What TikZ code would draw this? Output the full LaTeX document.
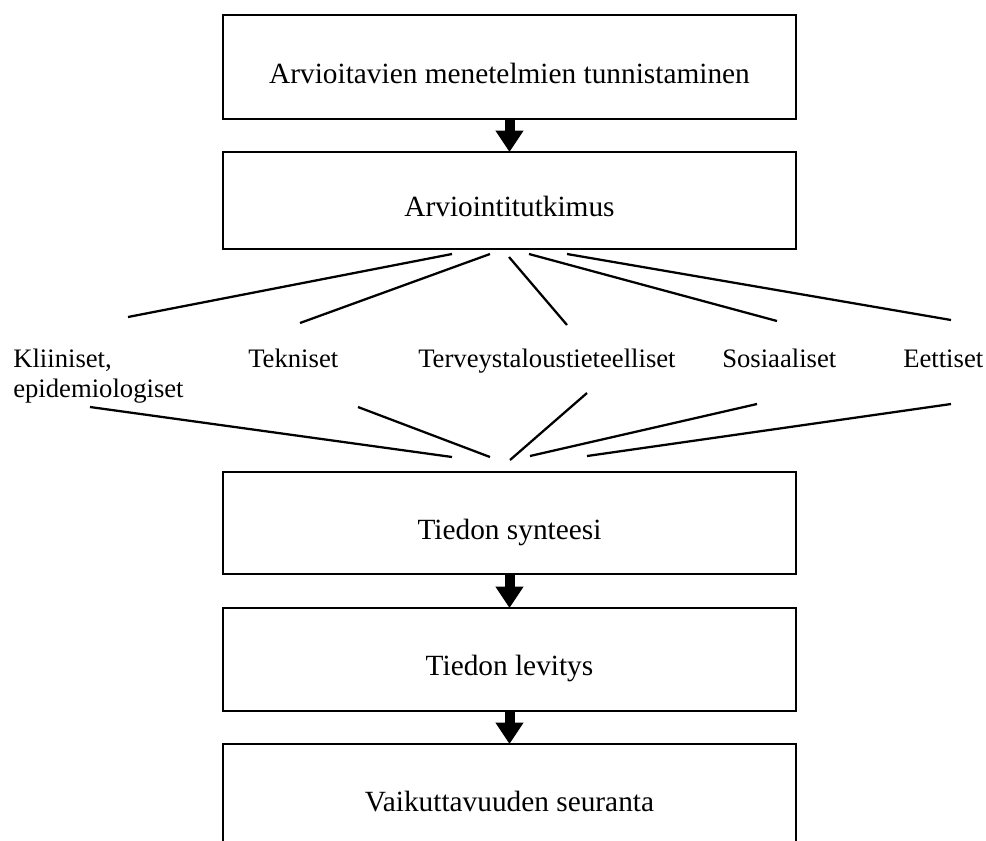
\documentclass[tikz,border=0pt]{standalone}
\usepackage{fontspec}
\setmainfont{Liberation Serif}
\usetikzlibrary{arrows.meta}
\begin{document}
\begin{tikzpicture}[x=0.75pt,y=-0.75pt,
  box/.style={draw,line width=1.5pt,minimum width=430pt,inner sep=0pt,outer sep=0pt,
    font=\fontsize{22}{26}\selectfont,text height=24pt,text depth=0pt},
  lab/.style={anchor=base west,inner sep=0pt,font=\fontsize{20}{22.5}\selectfont},
  fan/.style={line width=1.7pt},
  flow/.style={line width=7.5pt,-{Triangle[width=20pt,length=16pt]}}]
\useasboundingbox (0,0) rectangle (986,840);
\clip (0,0) rectangle (986,840);
% boxes
\node[box,minimum height=78pt]    (b1) at (509.5,67)    {Arvioitavien menetelmien tunnistaminen};
\node[box,minimum height=72.75pt] (b2) at (509.5,200.5) {Arviointitutkimus};
\node[box,minimum height=76.5pt]  (b3) at (509.5,523)   {Tiedon synteesi};
\node[box,minimum height=77.25pt] (b4) at (509.5,659.5) {Tiedon levitys};
\node[box,minimum height=76.5pt]  (b5) at (509.5,795)   {Vaikuttavuuden seuranta};
% arrows
\draw[flow] (b1.south) -- (b2.north);
\draw[flow] (b3.south) -- (b4.north);
\draw[flow] (b4.south) -- (b5.north);
% labels
\node[lab] (k1) at (13,367) {\begin{tabular}[t]{@{}l@{}}Kliiniset,\\epidemiologiset\end{tabular}};
\node[lab] (k2) at (248,367) {Tekniset};
\node[lab] (k3) at (418,367) {Terveystaloustieteelliset};
\node[lab] (k4) at (722,367) {Sosiaaliset};
\node[lab] (k5) at (903,367) {Eettiset};
% upper fan coordinates
\coordinate (u1s) at (452,254); \coordinate (u1e) at (128,317);
\coordinate (u2s) at (490,254); \coordinate (u2e) at (300,323);
\coordinate (u3s) at (509,257); \coordinate (u3e) at (567,325);
\coordinate (u4s) at (529,254); \coordinate (u4e) at (777,321);
\coordinate (u5s) at (567,254); \coordinate (u5e) at (951,320);
% lower fan coordinates
\coordinate (l1s) at (90,407);  \coordinate (l1e) at (452,457);
\coordinate (l2s) at (358,407); \coordinate (l2e) at (490,457);
\coordinate (l3s) at (587,393); \coordinate (l3e) at (510,460);
\coordinate (l4s) at (757,404); \coordinate (l4e) at (530,456);
\coordinate (l5s) at (951,404); \coordinate (l5e) at (587,456);
\foreach \i in {1,...,5} {
  \draw[fan] (u\i s) -- (u\i e);
  \draw[fan] (l\i s) -- (l\i e);
}
\end{tikzpicture}
\end{document}
